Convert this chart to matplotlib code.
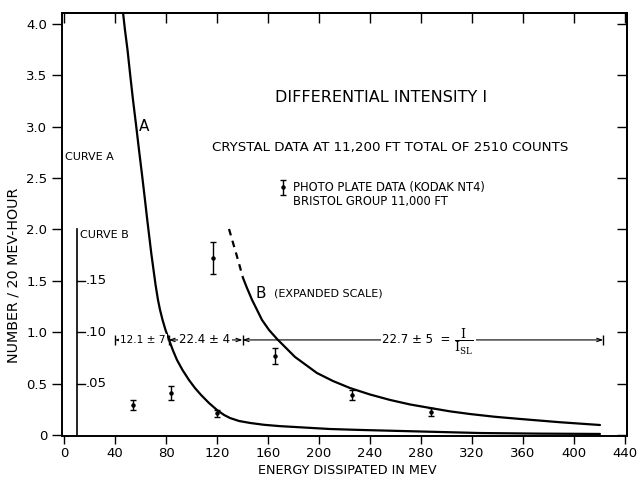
import matplotlib
matplotlib.use("Agg")
import matplotlib.pyplot as plt

# ---------------- data ----------------
curve_a_x = [46.3, 47.8, 49.8, 51.9, 54.1, 56.5, 58.8, 61.2, 63.5, 65.1, 66.7, 68.4,
             70.2, 71.8, 73.7, 75.3, 77.3, 79.6, 82.4, 85.3, 88.6, 92.9, 98.0, 102.7,
             107.5, 113.7, 120.0, 125.5, 130.2, 137.3, 145.9, 156.9, 169.4, 189.0,
             208.6, 232.2, 263.5, 294.9, 326.3, 373.3, 420.4]
curve_a_y = [4.107, 3.942, 3.747, 3.504, 3.260, 3.017, 2.774, 2.530, 2.287, 2.112, 1.946, 1.771,
             1.606, 1.460, 1.314, 1.217, 1.119, 1.022, 0.925, 0.827, 0.730, 0.633, 0.535, 0.457,
             0.389, 0.311, 0.243, 0.195, 0.165, 0.136, 0.117, 0.099, 0.086, 0.072,
             0.058, 0.049, 0.039, 0.029, 0.019, 0.013, 0.010]

curve_b_dash_x = [129.4, 132.2, 134.9, 137.7, 140.4]
curve_b_dash_y = [2.005, 1.885, 1.771, 1.648, 1.528]
curve_b_x = [140.4, 143.5, 147.5, 151.4, 155.3, 160.8, 167.1, 174.1, 181.2, 189.8, 198.4,
             211.0, 224.3, 240.0, 255.7, 271.4, 287.1, 302.7, 318.4, 338.0, 357.6, 389.0, 420.4]
curve_b_y = [1.528, 1.431, 1.314, 1.217, 1.119, 1.022, 0.934, 0.847, 0.759, 0.681, 0.603,
             0.525, 0.457, 0.394, 0.341, 0.297, 0.263, 0.230, 0.204, 0.177, 0.156, 0.124, 0.097]

plate_x = [54, 84, 117, 120, 165.5, 226, 288]
plate_y = [0.29, 0.41, 1.72, 0.21, 0.77, 0.39, 0.225]
plate_err = [0.05, 0.065, 0.155, 0.035, 0.075, 0.05, 0.04]

bracket_edges = [40, 82, 140, 423]
bracket_level = 0.925
bracket_labels = ["12.1 ± 7", "22.4 ± 4", "22.7 ± 5  ="]

b_scale_values = [0.05, 0.10, 0.15]
b_scale_labels = [".05", ".10", ".15"]
b_scale_factor = 10.0
b_scale_top = 0.20

x_ticks = [0, 40, 80, 120, 160, 200, 240, 280, 320, 360, 400, 440]
y_ticks = [0, 0.5, 1.0, 1.5, 2.0, 2.5, 3.0, 3.5, 4.0]
y_tick_labels = ["0", "0.5", "1.0", "1.5", "2.0", "2.5", "3.0", "3.5", "4.0"]

# ---------------- figure ----------------
plt.rcParams['font.family'] = ['DejaVu Sans']
plt.rcParams['mathtext.fontset'] = 'dejavuserif'
fig = plt.figure(figsize=(6.4, 4.8), dpi=100)
ax = fig.add_axes([62/640, 44/480, 565/640, 423/480])
ax.set_xlim(-1.6, 441.6)
ax.set_ylim(-0.01, 4.107)

for s in ax.spines.values():
    s.set_linewidth(1.4)

ax.set_xticks(x_ticks)
ax.set_xticklabels([str(v) for v in x_ticks])
ax.set_yticks(y_ticks)
ax.set_yticklabels(y_tick_labels)
ax.tick_params(axis='y', direction='out', length=7.5, width=1.0, labelsize=9.5, pad=3)
ax.tick_params(axis='x', direction='out', length=6, width=1.0, labelsize=9.5, pad=2)

# inward ticks on top and right
sx = ax.secondary_xaxis('top')
sx.set_xticks(x_ticks)
sx.tick_params(direction='in', length=7, width=1.0, labeltop=False)
sx.spines['top'].set_linewidth(1.4)
sy = ax.secondary_yaxis('right')
sy.set_yticks(y_ticks)
sy.tick_params(direction='in', length=7, width=1.0, labelright=False)
sy.spines['right'].set_linewidth(1.4)

ax.set_xlabel("ENERGY DISSIPATED IN MEV", fontsize=9.2)
ax.xaxis.set_label_coords(0.505, -0.066)
ax.set_ylabel("NUMBER / 20 MEV-HOUR", fontsize=10.3)
ax.yaxis.set_label_coords(-0.073, 0.38)

# curves
line_kw = dict(color='black', lw=1.6, solid_joinstyle='round', solid_capstyle='round')
ax.plot(curve_a_x, curve_a_y, **line_kw)
ax.plot(curve_b_dash_x, curve_b_dash_y, color='black', lw=1.6, dashes=(3, 2.5))
ax.plot(curve_b_x, curve_b_y, **line_kw)

# photo plate error bars
ax.errorbar(plate_x, plate_y, yerr=plate_err, fmt='o', color='black',
            markersize=2.2, capsize=2.2, elinewidth=1.0, capthick=1.0)

# inner scale for curve B
b_axis_x = 10.2
ax.plot([b_axis_x, b_axis_x], [0, b_scale_top * b_scale_factor], color='black', lw=1.2)
for v, lab in zip(b_scale_values, b_scale_labels):
    yy = v * b_scale_factor
    ax.plot([b_axis_x, b_axis_x + 6.3], [yy, yy], color='black', lw=1.0)
    ax.text(b_axis_x + 6.5, yy, lab, fontsize=9.5, ha='left', va='center')
ax.text(12.5, 1.95, "CURVE B", fontsize=8, ha='left', va='center')
ax.text(0.8, 2.71, "CURVE A", fontsize=8, ha='left', va='center')

# curve labels
ax.text(62.7, 3.0, "A", fontsize=11, ha='center', va='center')
ax.text(150, 1.38, "B", fontsize=11, ha='left', va='center')
ax.text(165, 1.38, "(EXPANDED SCALE)", fontsize=8, ha='left', va='center')

# titles
ax.text(249, 3.28, "DIFFERENTIAL INTENSITY I", fontsize=11.5, ha='center', va='center')
ax.text(255.7, 2.80, "CRYSTAL DATA AT 11,200 FT TOTAL OF 2510 COUNTS", fontsize=9.6,
        ha='center', va='center')
ax.errorbar([171.8], [2.41], yerr=[0.07], fmt='o', color='black',
            markersize=2.2, capsize=2.2, elinewidth=1.0, capthick=1.0)
ax.text(179.6, 2.41, "PHOTO PLATE DATA (KODAK NT4)", fontsize=8.3, ha='left', va='center')
ax.text(179.6, 2.27, "BRISTOL GROUP 11,000 FT", fontsize=8.3, ha='left', va='center')

# brackets
for i in range(len(bracket_edges) - 1):
    x0, x1 = bracket_edges[i], bracket_edges[i + 1]
    ax.annotate('', xy=(x1, bracket_level), xytext=(x0, bracket_level),
                arrowprops=dict(arrowstyle='<->,head_length=0.35,head_width=0.12',
                                lw=0.8, color='black', shrinkA=0, shrinkB=0))
ax.plot(bracket_edges, [bracket_level] * len(bracket_edges), linestyle='none',
        marker='|', markersize=7, markeredgewidth=1.0, color='black')
label_x = [62.0, 110.6, 276]
label_fs = [7.6, 8.5, 8.5]
for lx, lab, fs in zip(label_x, bracket_labels, label_fs):
    ax.text(lx, bracket_level, lab, fontsize=fs, ha='center', va='center',
            bbox=dict(facecolor='white', edgecolor='none', pad=0.8))
ax.text(313.5, bracket_level - 0.02, r"$\dfrac{\mathrm{I}}{\mathrm{I}_{\mathrm{SL}}}$", fontsize=9,
        ha='center', va='center',
        bbox=dict(facecolor='white', edgecolor='none', pad=2.0))

fig.savefig("out.png", dpi=100)
